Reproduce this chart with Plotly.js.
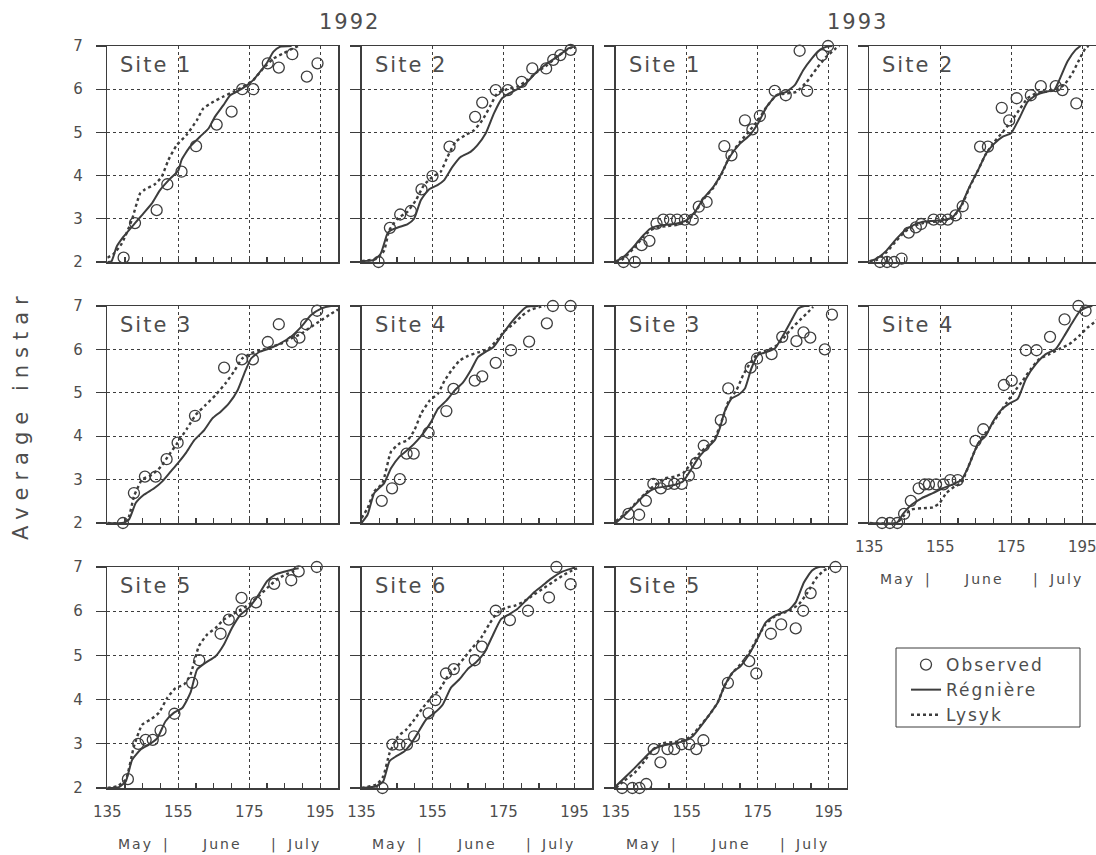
<!DOCTYPE html>
<html>
<head>
<meta charset="utf-8">
<script src="https://cdn.plot.ly/plotly-3.0.1.min.js"></script>
<style>
  html, body { margin: 0; padding: 0; overflow: hidden; background: #fff; }
  #chart { width: 1104px; height: 855px; }
  .annotation-text { letter-spacing: 2px; }
  .legendtext { letter-spacing: 2px; }
</style>
</head>
<body>
<div id="chart"></div>
<script>
// ---- Observed average instar and model predictions (day of year) ----

// 1992, Site 1
const y92s1ObsDay = [139.6,142.8,148.9,151.9,155.9,160.0,165.8,170.0,173.0,176.1,180.2,183.3,187.1,191.2,194.2];
const y92s1ObsInstar = [2.10,2.90,3.20,3.80,4.09,4.68,5.18,5.48,6.00,6.00,6.60,6.50,6.81,6.29,6.60];
const y92s1RegDay = [135,136.2,137.6,139.5,142.8,144.7,147.5,149.8,152.7,155.0,155.9,158.3,161.1,163.5,165.3,167.7,169.6,171.4,173.8,176.1,178.0,179.9,181.8,183.6,186.9];
const y92s1RegInstar = [2.0,2.02,2.35,2.58,2.90,3.08,3.35,3.66,3.93,4.12,4.36,4.67,4.90,5.09,5.36,5.63,5.86,5.94,6.06,6.21,6.40,6.60,6.87,6.98,7.0];
const y92s1LysDay = [135,136.7,139.1,141.9,144.2,145.6,148.4,150.3,152.2,154.5,157.3,160.2,162.0,164.9,167.7,170.5,173.3,176.1,178.9,181.8,184.6,187.4,188.8];
const y92s1LysInstar = [2.10,2.18,2.43,2.97,3.58,3.68,3.80,3.97,4.36,4.70,4.94,5.28,5.55,5.71,5.83,5.94,6.06,6.21,6.48,6.71,6.83,6.95,7.0];

// 1992, Site 2
const y92s2ObsDay = [139.8,143.0,145.9,148.9,151.9,155.0,159.8,167.0,169.0,172.8,176.2,180.1,183.1,187.0,189.0,191.0,193.9];
const y92s2ObsInstar = [2.0,2.79,3.10,3.18,3.68,3.99,4.67,5.36,5.69,5.98,5.98,6.17,6.48,6.48,6.68,6.79,6.91];
const y92s2RegDay = [135,138.6,140.4,142.3,143.2,145.6,147.9,149.8,151.7,154.0,156.4,158.2,160.6,162.9,165.7,167.6,170.0,172.3,174.6,176.5,178.9,181.2,184.0,187.3,190.1,193.4,194.8];
const y92s2RegInstar = [2.02,2.05,2.19,2.66,2.73,2.81,2.87,3.0,3.43,3.68,3.78,3.89,4.20,4.43,4.55,4.70,4.98,5.44,5.79,5.90,6.0,6.13,6.37,6.60,6.75,6.95,6.98];
const y92s2LysDay = [135,139.5,141.4,142.8,145.1,147.9,150.3,152.6,155.0,157.3,159.2,161.5,164.3,166.7,169.0,171.4,173.2,176.0,178.9,181.7,184.5,187.3,190.1,193.0,195.0];
const y92s2LysInstar = [2.02,2.08,2.27,2.73,3.0,3.16,3.43,3.78,3.97,4.09,4.43,4.78,4.94,5.05,5.28,5.63,5.90,6.0,6.06,6.21,6.40,6.56,6.75,6.92,7.0];

// 1993, Site 1
const y93s1ObsDay = [137.2,140.4,142.3,144.5,146.5,148.4,150.3,152.3,154.5,156.7,158.4,160.6,165.6,167.6,171.4,173.5,175.6,179.8,182.9,186.8,188.9,193.1,194.8];
const y93s1ObsInstar = [2.0,2.0,2.39,2.49,2.89,2.98,2.98,2.98,2.98,2.98,3.28,3.39,4.68,4.47,5.28,5.07,5.38,5.96,5.86,6.89,5.96,6.79,7.0];
const y93s1RegDay = [135,136.7,140.0,142.8,144.7,146.5,149.3,152.2,155.0,157.3,159.7,162.5,164.8,167.1,170.0,172.8,175.1,177.5,180.3,183.1,185.5,187.8,190.2,192.5,194.3,196.0];
const y93s1RegInstar = [2.02,2.08,2.35,2.62,2.77,2.83,2.86,2.89,2.97,3.16,3.47,3.74,4.05,4.43,4.74,4.94,5.21,5.59,5.86,5.94,6.10,6.44,6.71,6.91,6.98,7.0];
const y93s1LysDay = [135,136.7,140.0,142.8,144.7,146.5,149.3,152.2,155.0,157.3,159.7,162.5,164.8,167.1,170.0,172.8,175.1,177.5,180.3,183.1,185.9,188.8,191.6,194.3,197.1,198.0];
const y93s1LysInstar = [2.02,2.05,2.31,2.58,2.73,2.80,2.83,2.86,2.93,3.14,3.45,3.72,4.03,4.45,4.78,5.05,5.28,5.59,5.86,5.90,5.94,6.17,6.48,6.75,6.95,7.0];

// 1993, Site 2
const y93s2ObsDay = [138.0,140.0,142.0,144.1,146.1,148.1,149.6,153.1,155.2,157.1,159.3,161.3,166.2,168.4,172.3,174.4,176.5,180.5,183.3,187.5,189.4,193.3];
const y93s2ObsInstar = [2.0,2.0,2.0,2.08,2.68,2.80,2.88,2.98,2.98,2.98,3.08,3.29,4.67,4.67,5.57,5.28,5.79,5.86,6.07,6.07,5.98,5.67];
const y93s2RegDay = [135,137.1,139.9,142.7,145.0,147.3,150.1,152.9,155.7,158.5,160.9,163.2,165.6,167.9,170.2,172.6,174.9,177.2,179.6,181.9,184.7,187.1,188.5,190.8,193.1,194.5];
const y93s2RegInstar = [2.02,2.08,2.27,2.54,2.73,2.85,2.93,2.95,2.97,3.04,3.31,3.74,4.12,4.51,4.74,4.90,4.98,5.32,5.71,5.86,5.94,5.98,6.21,6.64,6.91,7.0];
const y93s2LysDay = [135,137.1,139.9,142.7,145.0,147.3,150.1,152.9,155.7,158.5,160.9,163.2,165.6,167.9,170.2,172.6,174.9,177.2,179.6,181.9,184.7,187.5,189.9,192.2,194.1,195.9,196.8];
const y93s2LysInstar = [2.02,2.05,2.23,2.50,2.70,2.83,2.90,2.93,2.95,3.03,3.29,3.72,4.12,4.51,4.78,5.01,5.25,5.52,5.79,5.90,5.94,5.98,6.10,6.37,6.68,6.95,7.0];

// 1992, Site 3
const y92s3ObsDay = [139.4,142.5,145.6,148.6,151.7,154.8,159.7,167.9,172.9,176.0,180.2,183.3,187.0,189.1,191.0,194.1];
const y92s3ObsInstar = [2.0,2.69,3.07,3.07,3.47,3.85,4.47,5.58,5.77,5.77,6.17,6.58,6.17,6.27,6.58,6.89];
const y92s3RegDay = [135,139.2,141.1,143.0,145.3,148.2,150.5,152.9,154.9,157.1,159.5,162.3,164.6,167.0,169.3,171.7,173.6,175.5,177.8,180.6,183.5,186.7,189.6,192.4,195.2,198.0,200.0];
const y92s3RegInstar = [2.0,2.0,2.08,2.46,2.65,2.80,2.96,3.19,3.38,3.61,3.91,4.14,4.41,4.57,4.76,5.06,5.45,5.79,5.94,6.02,6.13,6.29,6.52,6.79,6.94,7.0,7.0];
const y92s3LysDay = [135,139.7,141.1,142.5,144.8,147.6,150.1,152.4,154.8,157.5,159.9,162.7,165.5,168.3,170.6,173.0,175.5,178.3,181.1,183.9,186.7,189.6,192.4,195.2,198.0,200.0];
const y92s3LysInstar = [2.0,2.0,2.15,2.61,3.0,3.11,3.30,3.57,3.85,4.18,4.49,4.72,4.95,5.22,5.48,5.79,5.91,5.98,6.06,6.13,6.25,6.36,6.52,6.67,6.82,6.92];

// 1992, Site 4
const y92s4ObsDay = [140.7,143.6,145.8,147.7,149.7,153.9,158.9,160.9,166.9,169.0,172.8,177.1,182.2,187.2,188.9,193.9];
const y92s4ObsInstar = [2.51,2.80,3.01,3.60,3.60,4.08,4.58,5.09,5.28,5.38,5.69,5.98,6.18,6.60,7.0,7.0];
const y92s4RegDay = [135,136.7,138.6,141.4,143.3,145.7,148.5,150.8,152.7,154.6,156.5,158.9,161.2,163.6,166.0,167.8,169.7,172.1,174.4,176.8,179.2,181.5,184.8];
const y92s4RegInstar = [2.0,2.19,2.69,2.92,3.26,3.53,3.72,3.91,4.10,4.33,4.63,4.82,5.05,5.24,5.55,5.82,5.93,6.05,6.31,6.58,6.81,6.98,7.0];
const y92s4LysDay = [135,136.7,138.6,140.9,143.3,145.7,148.0,149.9,151.8,154.2,156.5,158.4,160.3,162.6,165.0,167.8,170.7,173.0,175.4,177.7,180.1,182.5,185.3,186.7];
const y92s4LysInstar = [2.11,2.34,2.73,2.92,3.64,3.83,3.91,4.14,4.52,4.82,4.98,5.28,5.51,5.74,5.85,5.93,6.01,6.20,6.43,6.58,6.77,6.91,6.98,7.0];

// 1993, Site 3
const y93s3ObsDay = [138.6,141.6,143.5,145.6,147.7,149.6,151.5,153.6,155.6,157.6,159.8,164.6,166.7,173.0,174.8,178.9,181.9,185.9,187.9,189.8,193.9,195.9];
const y93s3ObsInstar = [2.21,2.19,2.51,2.90,2.80,2.90,2.90,2.90,3.09,3.38,3.78,4.37,5.10,5.58,5.79,5.89,6.29,6.19,6.39,6.27,6.0,6.80];
const y93s3RegDay = [135,137.6,140.4,143.2,146.1,148.9,151.7,154.0,155.9,158.2,160.6,162.9,164.3,165.7,167.6,169.5,171.4,173.2,175.1,177.5,179.8,182.2,184.5,186.4,188.2,189.6];
const y93s3RegInstar = [2.0,2.19,2.42,2.65,2.80,2.84,2.88,2.96,3.19,3.49,3.72,3.91,4.18,4.57,4.87,4.95,5.10,5.56,5.87,5.94,6.02,6.33,6.67,6.94,7.0,7.0];
const y93s3LysDay = [135,137.6,140.4,143.2,146.1,148.9,151.7,154.0,155.9,158.2,160.6,162.9,164.8,166.7,169.0,170.9,172.8,175.1,177.5,179.8,182.2,184.5,186.8,189.2,190.6];
const y93s3LysInstar = [2.04,2.21,2.44,2.67,2.88,3.03,3.07,3.15,3.34,3.57,3.76,3.95,4.34,4.79,5.06,5.41,5.68,5.91,5.98,6.06,6.25,6.48,6.67,6.86,6.98];

// 1993, Site 4
const y93s4ObsDay = [138.6,140.8,142.9,144.8,146.7,148.9,150.6,151.8,153.8,155.9,157.8,159.9,164.9,167.1,172.9,175.1,179.1,182.1,185.9,190.0,193.9,195.9];
const y93s4ObsInstar = [2.0,2.0,2.0,2.21,2.51,2.80,2.89,2.89,2.89,2.89,2.99,2.99,3.89,4.16,5.18,5.28,5.98,5.98,6.29,6.69,7.0,6.89];
const y93s4RegDay = [135,142.7,144.5,146.9,149.7,152.9,155.7,158.5,160.9,162.7,164.2,165.6,167.9,169.8,172.1,174.4,176.8,179.1,181.9,184.7,187.5,189.9,192.2,194.1,195.9,197.8];
const y93s4RegInstar = [2.0,2.0,2.21,2.42,2.57,2.69,2.80,2.89,2.99,3.26,3.56,3.83,4.02,4.33,4.60,4.75,4.86,5.32,5.66,5.89,6.01,6.31,6.62,6.86,6.96,7.0];
const y93s4LysDay = [135,142.7,144.5,146.9,149.7,152.9,154.8,156.7,159.0,160.9,162.7,164.6,166.5,168.8,171.2,173.5,175.8,178.2,180.5,182.9,185.7,188.5,191.3,194.1,196.4,198.3,200.0];
const y93s4LysInstar = [2.0,2.0,2.15,2.31,2.34,2.36,2.46,2.69,2.84,2.92,3.26,3.64,3.95,4.18,4.48,4.75,5.02,5.28,5.55,5.78,5.89,6.01,6.12,6.31,6.50,6.62,6.75];

// 1992, Site 5
const y92s5ObsDay = [140.8,143.7,145.8,147.8,150.0,153.9,158.9,160.9,166.9,169.2,172.8,172.8,176.9,182.0,186.8,188.9,194.0];
const y92s5ObsInstar = [2.20,3.00,3.09,3.09,3.30,3.68,4.38,4.89,5.49,5.81,6.30,6.0,6.20,6.62,6.70,6.90,7.0];
const y92s5RegDay = [135,138.3,140.2,142.0,144.4,146.7,149.1,151.4,153.7,156.1,158.4,160.3,162.6,165.5,167.8,170.1,172.5,174.8,177.6,180.0,182.3,185.1,187.5,188.9];
const y92s5RegInstar = [2.0,2.02,2.15,2.64,2.87,2.98,3.13,3.51,3.70,3.81,4.15,4.68,4.83,4.98,5.24,5.62,5.92,6.07,6.37,6.68,6.83,6.90,6.95,6.97];
const y92s5LysDay = [135,137.8,140.2,142.5,144.8,147.2,149.5,151.9,154.2,156.6,158.4,160.8,163.1,165.5,167.8,170.1,172.5,174.8,177.6,180.5,183.3,186.1,188.4];
const y92s5LysInstar = [2.0,2.04,2.19,2.94,3.43,3.55,3.70,4.04,4.26,4.34,4.56,5.21,5.47,5.62,5.81,5.92,6.03,6.15,6.34,6.56,6.75,6.86,6.94];

// 1992, Site 6
const y92s6ObsDay = [140.9,143.7,145.7,147.8,149.8,153.9,155.8,158.8,161.0,166.9,168.9,172.8,176.8,181.9,187.8,189.9,193.9];
const y92s6ObsInstar = [2.0,2.98,2.98,2.98,3.17,3.69,3.99,4.59,4.69,4.89,5.20,6.01,5.80,6.01,6.31,7.0,6.61];
const y92s6RegDay = [135,139.2,141.1,142.9,144.8,147.1,149.0,150.9,153.2,155.6,157.9,160.2,162.6,164.9,167.2,169.6,171.9,174.3,176.6,178.9,181.3,183.6,186.0,188.3,191.1,194.3,195.2];
const y92s6RegInstar = [2.0,2.04,2.15,2.61,2.72,2.83,3.01,3.25,3.55,3.70,3.89,4.27,4.46,4.69,4.84,5.06,5.44,5.82,5.93,6.05,6.24,6.43,6.58,6.73,6.88,6.97,6.99];
const y92s6LysDay = [135,139.2,141.1,142.9,145.3,147.6,149.9,152.3,154.6,157.0,159.3,161.6,164.0,166.3,168.7,171.0,173.3,175.7,178.0,180.3,183.1,185.9,188.7,191.5,194.3,195.7];
const y92s6LysInstar = [2.0,2.08,2.26,2.79,3.17,3.32,3.55,3.82,4.04,4.23,4.53,4.72,4.95,5.18,5.40,5.71,5.97,6.08,6.12,6.20,6.35,6.50,6.65,6.80,6.92,6.97];

// 1993, Site 5
const y93s5ObsDay = [136.8,139.7,141.7,143.6,145.7,147.6,149.6,151.5,153.6,155.7,157.7,159.7,166.6,172.6,174.6,178.7,181.6,185.7,187.8,189.9,196.9];
const y93s5ObsInstar = [2.0,2.0,2.0,2.09,2.88,2.58,2.88,2.88,2.99,2.99,2.88,3.08,4.38,4.87,4.59,5.49,5.70,5.61,6.01,6.41,7.0];
const y93s5RegDay = [135,137.5,140.3,143.1,145.5,148.3,151.5,154.3,156.7,159.0,161.4,163.7,165.6,167.9,170.2,172.6,174.9,177.2,179.6,181.9,183.8,185.7,188.0,190.3,192.2,194.0];
const y93s5RegInstar = [2.04,2.23,2.45,2.68,2.87,2.96,3.01,3.06,3.17,3.40,3.66,3.93,4.30,4.61,4.76,5.03,5.37,5.74,5.89,5.97,6.03,6.20,6.65,6.92,7.0,7.0];
const y93s5LysDay = [135,137.5,140.3,143.1,145.5,148.3,151.5,154.3,156.7,159.0,161.4,163.7,165.6,167.9,170.2,172.6,174.9,177.2,179.6,181.9,184.3,186.6,189.0,191.3,193.6,195.5];
const y93s5LysInstar = [2.0,2.17,2.34,2.61,2.87,3.01,3.04,3.08,3.21,3.43,3.66,3.93,4.30,4.61,4.80,5.06,5.40,5.70,5.87,5.95,6.03,6.16,6.42,6.73,6.92,6.99];

// Month labels under the day-of-year axis
const monthText = ['May', '|', 'June', '|', 'July'];
const monthDay = [142.8, 151.6, 167.4, 182.2, 190.4];

// ---- Panel arrangement ----
const W = 1104, H = 855;
const colLeft = [107.3, 361.5, 615.7, 869.3];
const colW = 230.8;
const rowTop = [46, 306, 567];
const rowBot = [262, 523, 788];

const INK = '#3d3d3d';
const TEXT = '#4d4d4d';
const FONT = 'DejaVu Sans, sans-serif';

const panels = [
  {site: 'Site 1', row: 0, col: 0, obs: [y92s1ObsDay, y92s1ObsInstar], reg: [y92s1RegDay, y92s1RegInstar], lys: [y92s1LysDay, y92s1LysInstar]},
  {site: 'Site 2', row: 0, col: 1, obs: [y92s2ObsDay, y92s2ObsInstar], reg: [y92s2RegDay, y92s2RegInstar], lys: [y92s2LysDay, y92s2LysInstar]},
  {site: 'Site 1', row: 0, col: 2, obs: [y93s1ObsDay, y93s1ObsInstar], reg: [y93s1RegDay, y93s1RegInstar], lys: [y93s1LysDay, y93s1LysInstar]},
  {site: 'Site 2', row: 0, col: 3, obs: [y93s2ObsDay, y93s2ObsInstar], reg: [y93s2RegDay, y93s2RegInstar], lys: [y93s2LysDay, y93s2LysInstar]},
  {site: 'Site 3', row: 1, col: 0, obs: [y92s3ObsDay, y92s3ObsInstar], reg: [y92s3RegDay, y92s3RegInstar], lys: [y92s3LysDay, y92s3LysInstar]},
  {site: 'Site 4', row: 1, col: 1, obs: [y92s4ObsDay, y92s4ObsInstar], reg: [y92s4RegDay, y92s4RegInstar], lys: [y92s4LysDay, y92s4LysInstar]},
  {site: 'Site 3', row: 1, col: 2, obs: [y93s3ObsDay, y93s3ObsInstar], reg: [y93s3RegDay, y93s3RegInstar], lys: [y93s3LysDay, y93s3LysInstar]},
  {site: 'Site 4', row: 1, col: 3, obs: [y93s4ObsDay, y93s4ObsInstar], reg: [y93s4RegDay, y93s4RegInstar], lys: [y93s4LysDay, y93s4LysInstar], dayLabels: true},
  {site: 'Site 5', row: 2, col: 0, obs: [y92s5ObsDay, y92s5ObsInstar], reg: [y92s5RegDay, y92s5RegInstar], lys: [y92s5LysDay, y92s5LysInstar], dayLabels: true},
  {site: 'Site 6', row: 2, col: 1, obs: [y92s6ObsDay, y92s6ObsInstar], reg: [y92s6RegDay, y92s6RegInstar], lys: [y92s6LysDay, y92s6LysInstar], dayLabels: true},
  {site: 'Site 5', row: 2, col: 2, obs: [y93s5ObsDay, y93s5ObsInstar], reg: [y93s5RegDay, y93s5RegInstar], lys: [y93s5LysDay, y93s5LysInstar], dayLabels: true}
];

const traces = [];
const layout = {
  width: W, height: H,
  margin: {l: 0, r: 0, t: 0, b: 0},
  paper_bgcolor: '#fff', plot_bgcolor: '#fff',
  font: {family: FONT, color: TEXT, size: 15},
  showlegend: true,
  legend: {
    x: 906 / W, y: 1 - 647 / H, xanchor: 'left', yanchor: 'top',
    bgcolor: 'rgba(0,0,0,0)', borderwidth: 0,
    font: {family: FONT, size: 17, color: TEXT},
    tracegroupgap: 0, itemwidth: 30
  },
  // frame around the legend
  shapes: [{
    type: 'rect', xref: 'paper', yref: 'paper', layer: 'above',
    x0: 896 / W, x1: 1080 / W, y0: 1 - 727 / H, y1: 1 - 648 / H,
    line: {color: INK, width: 1}, fillcolor: 'rgba(0,0,0,0)'
  }],
  annotations: []
};

panels.forEach((p, i) => {
  const n = i + 1;
  const sx = n === 1 ? '' : String(n);
  const xa = 'x' + sx, ya = 'y' + sx;
  const first = i === 0;

  traces.push({
    x: p.reg[0], y: p.reg[1], xaxis: xa, yaxis: ya, type: 'scatter', mode: 'lines',
    name: 'Régnière', legendrank: 2, showlegend: first, legendgroup: 'reg',
    line: {color: INK, width: 2, shape: 'spline', smoothing: 0.5}, hoverinfo: 'skip'
  });
  traces.push({
    x: p.lys[0], y: p.lys[1], xaxis: xa, yaxis: ya, type: 'scatter', mode: 'lines',
    name: 'Lysyk', legendrank: 3, showlegend: first, legendgroup: 'lys',
    line: {color: INK, width: 2.4, dash: 'dot', shape: 'spline', smoothing: 0.5}, hoverinfo: 'skip'
  });
  traces.push({
    x: p.obs[0], y: p.obs[1], xaxis: xa, yaxis: ya, type: 'scatter', mode: 'markers',
    name: 'Observed', legendrank: 1, showlegend: first, legendgroup: 'obs',
    marker: {symbol: 'circle-open', size: 11, color: INK, line: {width: 1.3, color: INK}},
    cliponaxis: false, hoverinfo: 'skip'
  });

  const x0 = colLeft[p.col], x1 = x0 + colW;
  const yTop = rowTop[p.row], yBot = rowBot[p.row];

  layout['xaxis' + sx] = {
    domain: [x0 / W, x1 / W], range: [135, 200], anchor: ya,
    tickmode: 'linear', tick0: 135, dtick: 20,
    ticks: 'inside', ticklen: 5, tickwidth: 1.3, tickcolor: INK,
    minor: {tick0: 135, dtick: 5, ticks: 'inside', ticklen: 5, tickwidth: 1.3, tickcolor: INK, showgrid: false},
    showticklabels: !!p.dayLabels, ticklabelstandoff: 9,
    tickfont: {family: FONT, size: 15, color: TEXT},
    showgrid: true, gridcolor: INK, gridwidth: 1.2, griddash: 'dot',
    showline: true, linecolor: INK, linewidth: 1.5, mirror: true,
    zeroline: false, fixedrange: true
  };
  layout['yaxis' + sx] = {
    domain: [1 - yBot / H, 1 - yTop / H], range: [2, 7], anchor: xa,
    tickmode: 'linear', tick0: 2, dtick: 1,
    ticks: 'outside', ticklen: 10, tickwidth: 1.3, tickcolor: INK,
    showticklabels: p.col === 0, ticklabelstandoff: 10,
    tickfont: {family: FONT, size: 15, color: TEXT},
    showgrid: true, gridcolor: INK, gridwidth: 1.2, griddash: 'dot',
    showline: true, linecolor: INK, linewidth: 1.5, mirror: true,
    zeroline: false, fixedrange: true
  };

  layout.annotations.push({
    text: p.site, xref: xa + ' domain', yref: ya + ' domain',
    x: 11 / colW, y: 1 - 19 / (yBot - yTop), xanchor: 'left', yanchor: 'middle',
    showarrow: false, font: {family: FONT, size: 21, color: TEXT}
  });

  if (p.dayLabels) {
    const yMonth = 1 - (yBot + 56) / H;
    monthText.forEach((t, k) => {
      layout.annotations.push({
        text: t, xref: xa, yref: 'paper', x: monthDay[k], y: yMonth,
        xanchor: 'center', yanchor: 'middle', showarrow: false,
        font: {family: FONT, size: 14, color: TEXT}
      });
    });
  }
});

// Year headings and the shared y-axis title
layout.annotations.push({
  text: '1992', xref: 'paper', yref: 'paper',
  x: (colLeft[0] + colLeft[1] + colW) / 2 / W, y: 1 - 22 / H,
  xanchor: 'center', yanchor: 'middle', showarrow: false,
  font: {family: FONT, size: 21, color: TEXT}
});
layout.annotations.push({
  text: '1993', xref: 'paper', yref: 'paper',
  x: (colLeft[2] + colLeft[3] + colW) / 2 / W, y: 1 - 22 / H,
  xanchor: 'center', yanchor: 'middle', showarrow: false,
  font: {family: FONT, size: 21, color: TEXT}
});
const yTitleIndex = layout.annotations.length;
layout.annotations.push({
  text: 'Average instar', xref: 'paper', yref: 'paper',
  x: 21 / W, y: 1 - 415 / H, textangle: -90,
  xanchor: 'center', yanchor: 'middle', showarrow: false,
  font: {family: FONT, size: 21, color: TEXT}
});

Plotly.newPlot('chart', traces, layout, {displayModeBar: false, staticPlot: true}).then(() => {
  // wide tracking on the rotated axis title
  const t = document.querySelector('.annotation[data-index="' + yTitleIndex + '"] text');
  if (t) t.style.letterSpacing = '7px';
});
</script>
</body>
</html>
